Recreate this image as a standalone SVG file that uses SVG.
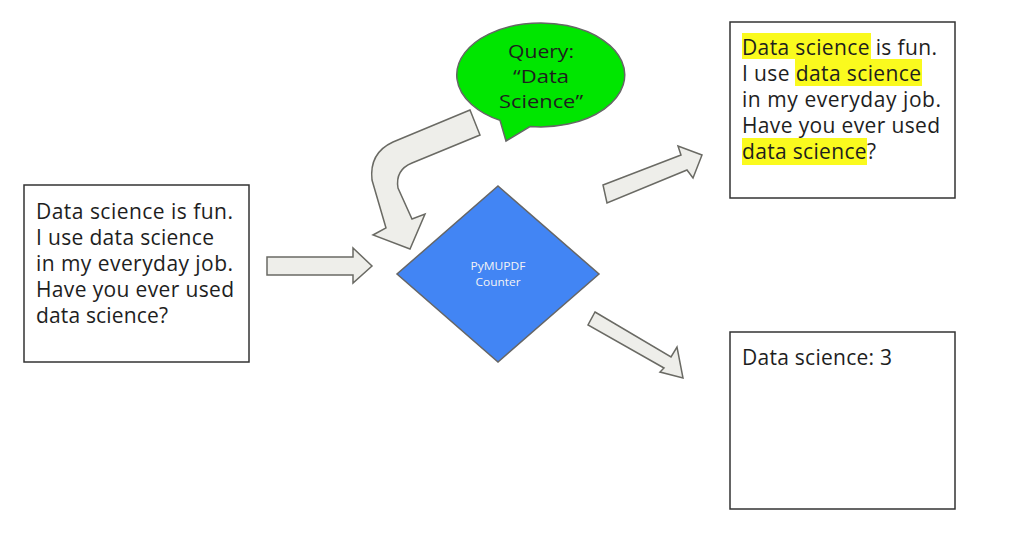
<svg xmlns="http://www.w3.org/2000/svg" width="1015" height="556" viewBox="0 0 1015 556">
<style>
.box{fill:#ffffff;stroke:#333333;stroke-width:1.5}
.t{font-family:"Open Sans","Noto Sans","Liberation Sans",sans-serif;font-size:21px;fill:#1e1e1e}
.q{font-family:"Open Sans","Noto Sans","Liberation Sans",sans-serif;font-size:19px;fill:#1e1e1e}
.arrow{fill:#eeeeea;stroke:#6a6a64;stroke-width:1.5;stroke-linejoin:miter}
.hl{fill:#fafa1e}
.d{font-family:"Open Sans","Noto Sans",sans-serif;font-size:11.5px;fill:#f4f4f4}
</style>
<rect width="1015" height="556" fill="#ffffff"/>
<g id="input">
<rect class="box" x="24" y="185" width="225" height="177"/>
<text class="t" x="36" y="219" textLength="197" lengthAdjust="spacing">Data science is fun.</text>
<text class="t" x="36" y="245" textLength="178" lengthAdjust="spacing">I use data science</text>
<text class="t" x="36" y="271" textLength="197" lengthAdjust="spacing">in my everyday job.</text>
<text class="t" x="36" y="297" textLength="198" lengthAdjust="spacing">Have you ever used</text>
<text class="t" x="36" y="323" textLength="132" lengthAdjust="spacing">data science?</text>
</g>
<g id="query">
<path d="M500,120.4 A84,52 0 1 1 530,126.5 L506,141 Z" fill="#00e600" stroke="#666666" stroke-width="1.5"/>
<text class="q" x="541" y="58" text-anchor="middle" textLength="66" lengthAdjust="spacingAndGlyphs">Query:</text>
<text class="q" x="541" y="83" text-anchor="middle" textLength="56" lengthAdjust="spacingAndGlyphs">“Data</text>
<text class="q" x="541" y="108" text-anchor="middle" textLength="84" lengthAdjust="spacingAndGlyphs">Science”</text>
</g>
<g id="counter">
<polygon points="498,186 599,274 498,362 397,274" fill="#4285f4" stroke="#666666" stroke-width="1.5"/>
<text class="d" x="498" y="270" text-anchor="middle" textLength="55" lengthAdjust="spacingAndGlyphs">PyMUPDF</text>
<text class="d" x="498" y="286" text-anchor="middle" textLength="45" lengthAdjust="spacingAndGlyphs">Counter</text>
</g>
<g id="highlighted">
<rect class="box" x="730" y="22" width="225" height="176"/>
<rect class="hl" x="742" y="33" width="129" height="26"/>
<rect class="hl" x="795" y="59" width="127" height="27"/>
<rect class="hl" x="742" y="138" width="125" height="27"/>
<text class="t" x="742" y="55" textLength="195" lengthAdjust="spacing">Data science is fun.</text>
<text class="t" x="742" y="81" textLength="179" lengthAdjust="spacing">I use data science</text>
<text class="t" x="742" y="107" textLength="199" lengthAdjust="spacing">in my everyday job.</text>
<text class="t" x="742" y="133" textLength="198" lengthAdjust="spacing">Have you ever used</text>
<text class="t" x="742" y="159" textLength="134" lengthAdjust="spacing">data science?</text>
</g>
<g id="count">
<rect class="box" x="730" y="332" width="225" height="177"/>
<text class="t" x="742" y="365" textLength="150" lengthAdjust="spacing">Data science: 3</text>
</g>
<g id="connectors">
<path class="arrow" d="M267,257 L353,257 L353,248 L372,266 L353,283 L353,275 L267,275 Z"/>
<path class="arrow" d="M470,110 L393,142 Q369,153 372,180 L386,228 L373,235 L410,249 L425,214 L412,219 L398,188 Q395,170 412,163 L480,135 Z"/>
<path class="arrow" d="M603,185 L681,155 L678,146 L702,155 L693,178 L687,170 L607,203 Z"/>
<path class="arrow" d="M595,312 L671,357 L677,347 L683,378 L660,372 L664,368 L588,325 Z"/>
</g>
</svg>
